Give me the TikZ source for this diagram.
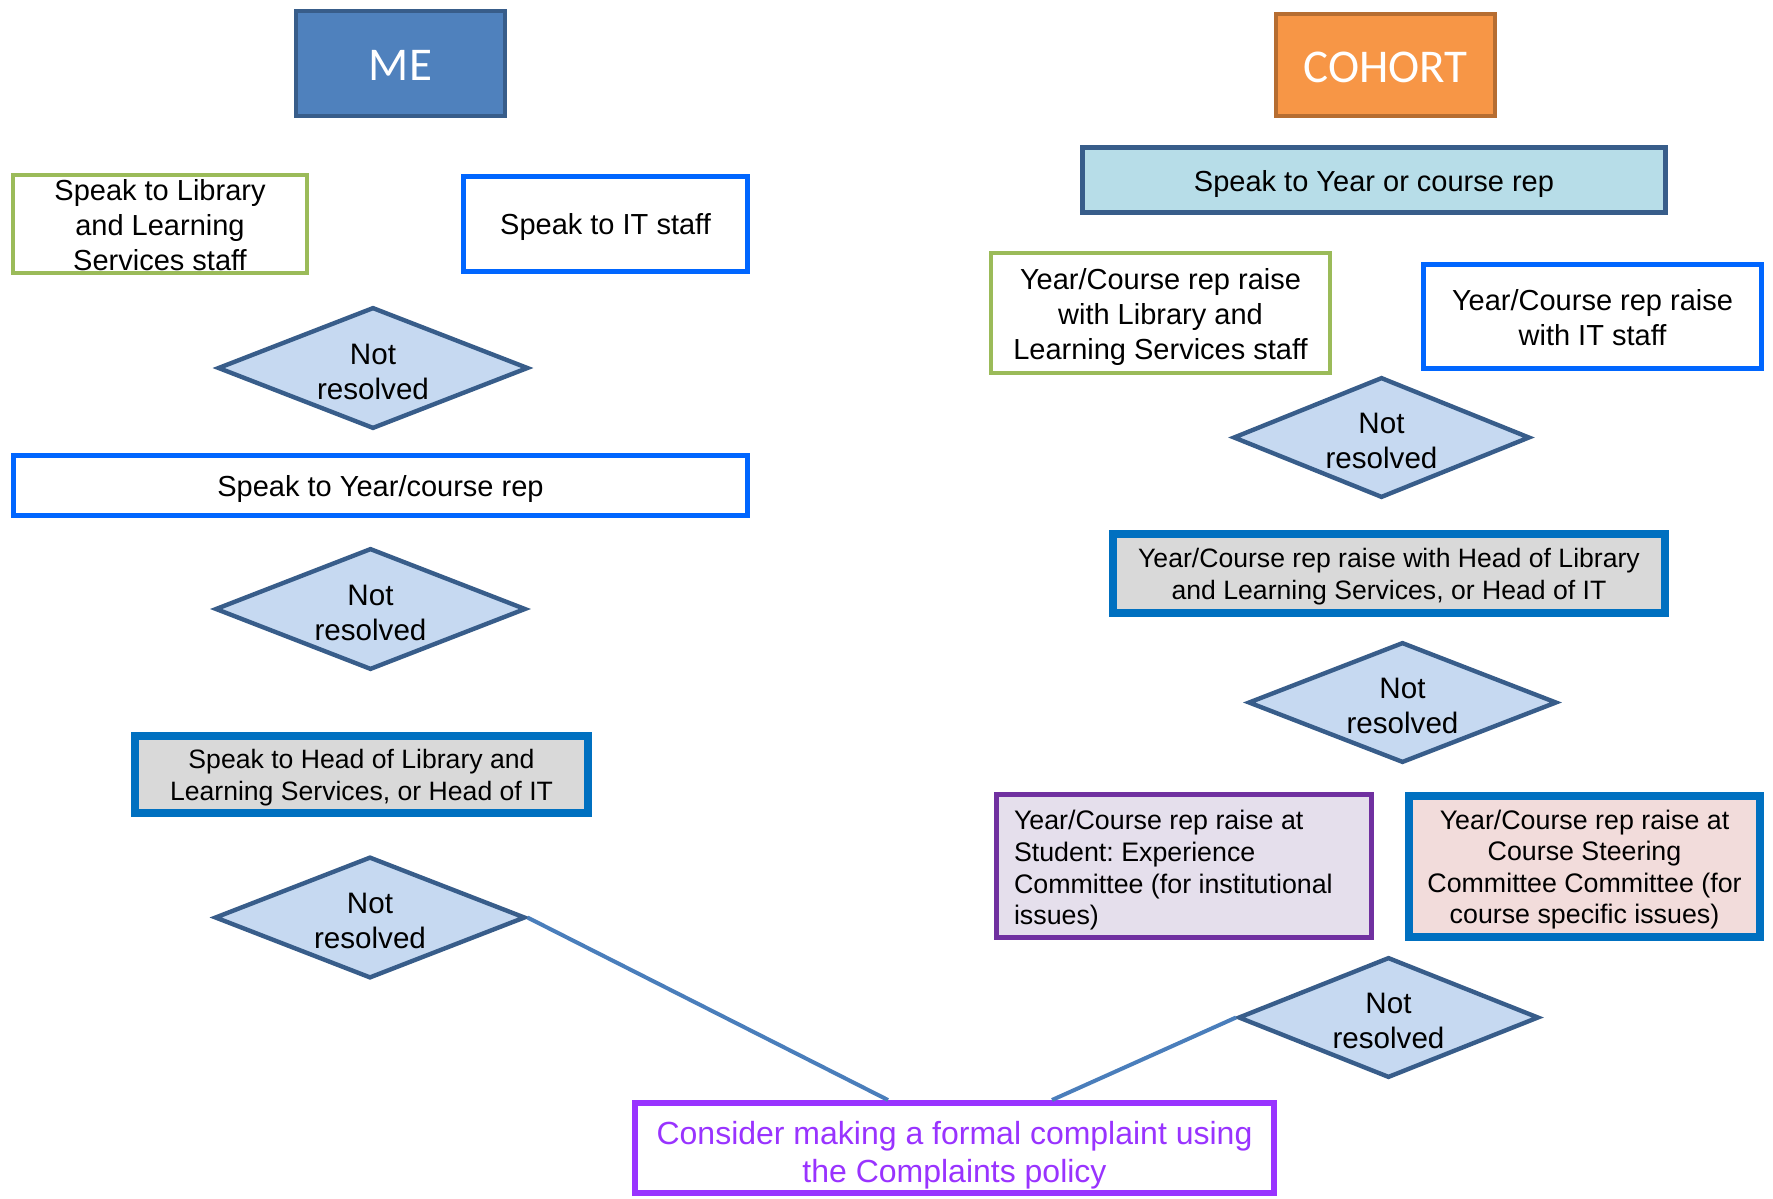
\documentclass[tikz,border=0pt]{standalone}
\usepackage{fontspec}
\setmainfont{Liberation Sans}
\newfontfamily\calfont{Carlito}
\frenchspacing
\usetikzlibrary{shapes.geometric}
\definecolor{mblue}{HTML}{4F81BD}
\definecolor{mdark}{HTML}{385D8A}
\definecolor{morange}{HTML}{F79646}
\definecolor{mbrown}{HTML}{B66D31}
\definecolor{mgreen}{HTML}{9BBB59}
\definecolor{mbright}{HTML}{0066FF}
\definecolor{mdiam}{HTML}{C6D9F1}
\definecolor{maqua}{HTML}{B7DDE8}
\definecolor{mgray}{HTML}{D9D9D9}
\definecolor{mhead}{HTML}{0070C0}
\definecolor{mpurple}{HTML}{7030A0}
\definecolor{mlav}{HTML}{E5DFEC}
\definecolor{mpink}{HTML}{F2DCDB}
\definecolor{mviolet}{HTML}{9933FF}
\definecolor{mline}{HTML}{4A7EBB}
\newcommand{\toplineht}{0.95em}
\tikzset{topline/.code = {\renewcommand{\toplineht}{#1}},
         every node/.style = {execute at begin node={\rule{0pt}{\toplineht}}}}
\tikzset{box/.style = {draw, rectangle, align=center, inner sep=0, topline=0.95em,
                       font=\fontsize{14.5}{17.5}\selectfont}}
\tikzset{title/.style = {box, line width=2.2pt, text=white, topline=0.74em,
                         font=\calfont\fontsize{23.5}{28}\selectfont}}
\tikzset{greenbox/.style = {box, draw=mgreen, line width=2pt}}
\tikzset{bluebox/.style = {box, draw=mbright, line width=2.6pt}}
\tikzset{headbox/.style = {box, draw=mhead, fill=mgray, line width=4pt,
                           font=\fontsize{13.3}{15.8}\selectfont}}
\tikzset{notres/.style = {diamond, aspect=2.5, draw=mdark, fill=mdiam, line width=2.2pt,
                          inner sep=0, align=flush center, text width=60pt, topline=0.95em,
                          minimum width=155.3pt, minimum height=60.8pt,
                          font=\fontsize{14.8}{17.5}\selectfont}}
\tikzset{conn/.style = {mline, line width=2pt}}

\begin{document}
\begin{tikzpicture}[x=0.5pt, y=-0.5pt]
    \useasboundingbox (0, 0) rectangle (1773, 1199);

    \node [title, fill=mblue, draw=mdark, minimum width=104.3pt, minimum height=52.3pt] (me) at (400.5, 63.5) {ME};
    \node [greenbox, align=flush center, text width=140pt, topline=0.77em, minimum width=147pt, minimum height=49pt] (lib) at (160, 224) {Speak to Library\\and Learning\\Services staff};
    \node [bluebox, minimum width=141.9pt, minimum height=47.4pt] (it) at (605.5, 224) {Speak to IT staff};
    \node [notres] (d1) at (373, 368) {Not\\resolved};
    \node [bluebox, minimum width=366.9pt, minimum height=29.9pt] (rep) at (380.5, 485.5) {Speak to Year/course rep};
    \node [notres] (d2) at (370.5, 609) {Not\\resolved};
    \node [headbox, align=flush center, text width=220pt, minimum width=226.5pt, minimum height=38.5pt] (head) at (361.5, 774.5) {Speak to Head of Library and\\Learning Services, or Head of IT};
    \node [notres] (d3) at (370, 917.5) {Not\\resolved};

    \node [title, fill=morange, draw=mbrown, minimum width=109.3pt, minimum height=50.8pt] (cohort) at (1385.5, 65) {COHORT};
    \node [box, draw=mdark, fill=maqua, line width=2.4pt, topline=1.03em, minimum width=291.6pt, minimum height=32.6pt] (repr) at (1374, 180) {Speak to Year or course rep};
    \node [greenbox, align=flush center, text width=165pt, topline=1.03em, minimum width=169.5pt, minimum height=60pt] (libr) at (1160.5, 313) {Year/Course rep raise\\with Library and\\Learning Services staff};
    \node [bluebox, align=flush center, text width=160pt, topline=0.8em, minimum width=168.9pt, minimum height=51.9pt] (itr) at (1592.5, 316.5) {Year/Course rep raise\\with IT staff};
    \node [notres, minimum width=148.3pt, minimum height=60.3pt] (dr1) at (1381.5, 437.5) {Not\\resolved};
    \node [headbox, align=flush center, text width=270pt, minimum width=276pt, minimum height=39.5pt] (headr) at (1389, 573.5) {Year/Course rep raise with Head of Library\\and Learning Services, or Head of IT};
    \node [notres, minimum width=154.3pt, minimum height=60.3pt] (dr2) at (1402.5, 702.5) {Not\\resolved};
    \node [box, draw=mpurple, fill=mlav, line width=2.4pt, minimum width=187.6pt, minimum height=71.6pt,
           text width=170pt, align=flush left, topline=1.05em, font=\fontsize{13.4}{15.8}\selectfont] (sec) at (1184, 866)
          {Year/Course rep raise at\\Student: Experience\\Committee (for institutional\\issues)};
    \node [headbox, fill=mpink, align=flush center, text width=170pt, minimum width=175.5pt, minimum height=70.5pt,
           font=\fontsize{13.4}{15.8}\selectfont] (csc) at (1584.5, 866.5)
          {Year/Course rep raise at\\Course Steering\\Committee Committee (for\\course specific issues)};
    \node [notres, minimum width=150.3pt, minimum height=60.3pt] (dr3) at (1388.5, 1017.5) {Not\\resolved};

    \node [box, draw=mviolet, text=mviolet, line width=2.8pt, align=flush center, text width=315pt, topline=1.18em,
           minimum width=319.7pt, minimum height=45.2pt,
           font=\fontsize{16}{19.2}\selectfont] (cmp) at (954.5, 1148)
          {Consider making a formal complaint using\\the Complaints policy};

    \coordinate (cmpa) at (888, 1100);
    \coordinate (cmpb) at (1052, 1100);
    \draw [conn] (d3.east) -- (cmpa);
    \draw [conn] (cmpb) -- (dr3.west);
\end{tikzpicture}
\end{document}
